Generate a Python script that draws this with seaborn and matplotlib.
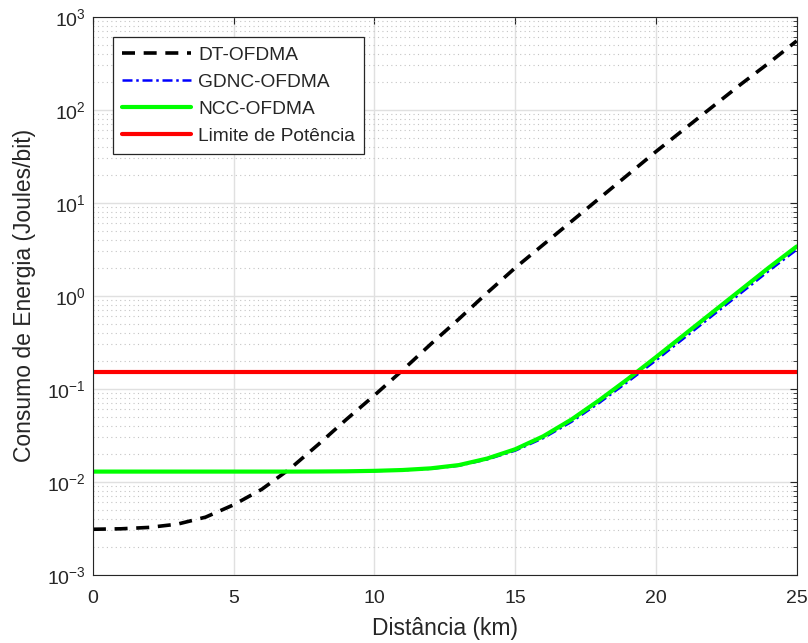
import numpy as np
import pandas as pd
import seaborn as sns
import matplotlib.pyplot as plt
from matplotlib.ticker import LogLocator, NullFormatter, NullLocator

# Distance axis (km)
distancia = list(range(26))

# log10 of energy consumption
dt_log = [-2.51, -2.505, -2.49, -2.455, -2.38, -2.247, -2.08, -1.86, -1.60,
          -1.33, -1.07, -0.80, -0.52, -0.25, 0.03, 0.30, 0.55, 0.80, 1.05,
          1.30, 1.55, 1.79, 2.03, 2.27, 2.50, 2.74]
ncc_log = [-1.89, -1.89, -1.89, -1.89, -1.89, -1.89, -1.89, -1.89, -1.889,
           -1.887, -1.882, -1.873, -1.855, -1.82, -1.75, -1.65, -1.51,
           -1.33, -1.12, -0.895, -0.66, -0.42, -0.18, 0.06, 0.30, 0.53]
gdnc_log = [-1.89, -1.89, -1.89, -1.89, -1.89, -1.89, -1.89, -1.89, -1.889,
            -1.888, -1.884, -1.876, -1.86, -1.827, -1.76, -1.665, -1.53,
            -1.355, -1.148, -0.925, -0.695, -0.455, -0.215, 0.025, 0.265,
            0.495]
limite = 0.15

sns.set_style("white")
plt.rcParams['font.family'] = ['Liberation Sans', 'DejaVu Sans']
plt.rcParams['mathtext.default'] = 'regular'

df = pd.DataFrame({
    'dist': distancia,
    'dt': 10 ** np.array(dt_log),
    'gdnc': 10 ** np.array(gdnc_log),
    'ncc': 10 ** np.array(ncc_log),
    'lim': [limite] * len(distancia),
})

fig = plt.figure(figsize=(8.08, 6.43), dpi=100)
ax = fig.add_axes([0.115, 0.106, 0.871, 0.868])

sns.lineplot(data=df, x='dist', y='dt', ax=ax, color='black', lw=2.6,
             label='DT-OFDMA')
ax.lines[-1].set_dashes([3.6, 2.4])
sns.lineplot(data=df, x='dist', y='gdnc', ax=ax, color='#0000ff', lw=1.8,
             label='GDNC-OFDMA')
ax.lines[-1].set_dashes([4, 1.5, 1, 1.5])
sns.lineplot(data=df, x='dist', y='ncc', ax=ax, color='#00ff00', lw=3.0,
             label='NCC-OFDMA')
sns.lineplot(data=df, x='dist', y='lim', ax=ax, color='#ff0000', lw=3.0,
             label='Limite de Potência')

ax.set_yscale('log')
ax.set_xlim(0, 25)
ax.set_ylim(1e-3, 1e3)
ax.set_xticks([0, 5, 10, 15, 20, 25])
ax.xaxis.set_minor_locator(NullLocator())
ax.yaxis.set_major_locator(LogLocator(base=10, numticks=10))
ax.yaxis.set_minor_locator(LogLocator(base=10, subs=np.arange(2, 10),
                                      numticks=20))
ax.yaxis.set_minor_formatter(NullFormatter())

ax.grid(which='major', color='#e0e0e0', lw=1.0, ls='-')
ax.grid(which='minor', axis='y', color='#c4c4c4', lw=0.8, ls=(0, (1, 3)))
ax.set_axisbelow(True)

for s in ax.spines.values():
    s.set_visible(True)
    s.set_color('#262626')
    s.set_linewidth(0.8)
ax.tick_params(which='both', direction='in', top=True, right=True,
               colors='#262626', labelsize=14, labelcolor='#262626')
ax.tick_params(which='major', length=5)
ax.tick_params(which='minor', length=3)
ax.tick_params(axis='x', pad=11)
ax.tick_params(axis='y', pad=5)

ax.set_xlabel('Distância (km)', fontsize=16.5, color='#262626', labelpad=7)
ax.set_ylabel('Consumo de Energia (Joules/bit)', fontsize=16.5,
              color='#262626', labelpad=8)

leg = ax.legend(loc='upper left', bbox_to_anchor=(0.028, 0.964),
                borderaxespad=0, fontsize=13.8, handlelength=3.6,
                fancybox=False, framealpha=1, edgecolor='#262626',
                borderpad=0.5, labelspacing=0.5, handletextpad=0.35)
leg.get_frame().set_linewidth(0.9)

fig.savefig('out.png', dpi=100)
